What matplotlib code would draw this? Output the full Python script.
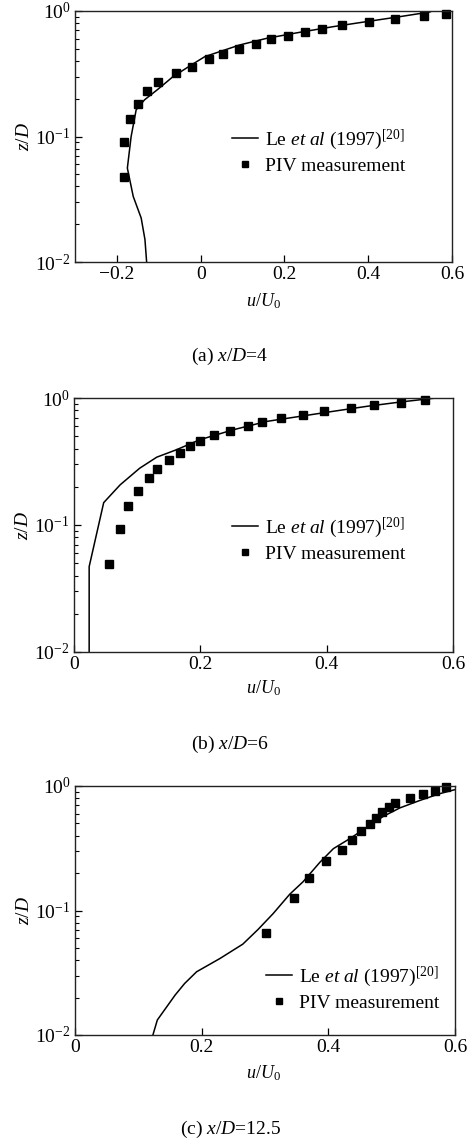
import math
import matplotlib
matplotlib.use("Agg")
import matplotlib.pyplot as plt
from matplotlib.ticker import FixedLocator, FuncFormatter, LogLocator, NullFormatter

plt.rcParams['font.family'] = ['Liberation Serif', 'DejaVu Serif']
plt.rcParams['mathtext.fontset'] = 'custom'
plt.rcParams['mathtext.rm'] = 'Liberation Serif'
plt.rcParams['mathtext.it'] = 'Liberation Serif:italic'
plt.rcParams['mathtext.bf'] = 'Liberation Serif:bold'

# ---- Panel (a) x/D = 4 ----
a_piv_u = [0.585, 0.532, 0.465, 0.401, 0.337, 0.289, 0.249, 0.209, 0.169, 0.131, 0.092,
           0.053, 0.019, -0.021, -0.060, -0.101, -0.128, -0.149, -0.169, -0.184, -0.184]
a_piv_z = [0.946, 0.912, 0.859, 0.812, 0.774, 0.719, 0.676, 0.632, 0.595, 0.546, 0.501,
           0.455, 0.412, 0.361, 0.319, 0.272, 0.230, 0.181, 0.138, 0.090, 0.048]
a_les_u = [-0.129, -0.133, -0.142, -0.161, -0.175, -0.166, -0.154, -0.134, -0.102, -0.066,
           -0.022, 0.010, 0.093, 0.157, 0.236, 0.316, 0.395, 0.475, 0.547, 0.552]
a_les_z = [0.0100, 0.0151, 0.0224, 0.0333, 0.056, 0.100, 0.163, 0.196, 0.238, 0.300,
           0.372, 0.433, 0.536, 0.605, 0.676, 0.750, 0.822, 0.901, 0.982, 1.0]

# ---- Panel (b) x/D = 6 ----
b_piv_u = [0.556, 0.517, 0.475, 0.438, 0.395, 0.363, 0.328, 0.298, 0.276, 0.247, 0.221,
           0.199, 0.183, 0.168, 0.151, 0.131, 0.118, 0.101, 0.086, 0.073, 0.056]
b_piv_z = [0.970, 0.919, 0.881, 0.829, 0.785, 0.734, 0.691, 0.643, 0.601, 0.552, 0.511,
           0.461, 0.420, 0.368, 0.326, 0.277, 0.233, 0.184, 0.141, 0.0925, 0.049]
b_les_u = [0.024, 0.024, 0.047, 0.073, 0.104, 0.131, 0.162, 0.199, 0.252, 0.305,
           0.410, 0.463, 0.516, 0.563, 0.600]
b_les_z = [0.0100, 0.047, 0.150, 0.207, 0.280, 0.342, 0.391, 0.469, 0.562, 0.654,
           0.785, 0.859, 0.929, 0.988, 1.03]

# ---- Panel (c) x/D = 12.5 ----
c_piv_u = [0.586, 0.568, 0.550, 0.529, 0.506, 0.495, 0.484, 0.475, 0.465, 0.451, 0.438,
           0.422, 0.396, 0.370, 0.346, 0.301]
c_piv_z = [0.976, 0.918, 0.857, 0.801, 0.735, 0.675, 0.615, 0.551, 0.493, 0.436, 0.367,
           0.308, 0.250, 0.184, 0.125, 0.0662]
c_les_u = [0.123, 0.130, 0.158, 0.173, 0.192, 0.229, 0.265, 0.289, 0.313, 0.339, 0.360,
           0.387, 0.408, 0.434, 0.460, 0.487, 0.513, 0.545, 0.576, 0.600]
c_les_z = [0.0100, 0.0132, 0.0209, 0.0259, 0.0322, 0.0412, 0.0537, 0.0704, 0.0946, 0.135,
           0.170, 0.245, 0.314, 0.378, 0.463, 0.571, 0.667, 0.767, 0.868, 0.935]

x_ticks_a = [-0.2, 0, 0.2, 0.4, 0.6]
x_ticks_bc = [0, 0.2, 0.4, 0.6]
captions = ["(a) $\\it{x/D}$=4", "(b) $\\it{x/D}$=6", "(c) $\\it{x/D}$=12.5"]
les_label = "Le $\\it{et\\ al}$ (1997)$^{[20]}$"
piv_label = "PIV measurement"

W, H = 471, 1143
fig = plt.figure(figsize=(W / 100, H / 100), dpi=100)


def box(l, t, r, b):
    return [l / W, 1 - b / H, (r - l) / W, (b - t) / H]


panels = [
    dict(px=(75, 11, 452, 262), xlim=(-0.3, 0.6), xt=x_ticks_a,
         pu=a_piv_u, pz=a_piv_z, lu=a_les_u, lz=a_les_z, cap=captions[0], capy=356, xly=301,
         leg=(224, 120)),
    dict(px=(74, 398, 453, 652), xlim=(0, 0.6), xt=x_ticks_bc,
         pu=b_piv_u, pz=b_piv_z, lu=b_les_u, lz=b_les_z, cap=captions[1], capy=744, xly=688,
         leg=(224, 508)),
    dict(px=(75, 786, 455, 1035), xlim=(0, 0.6), xt=x_ticks_bc,
         pu=c_piv_u, pz=c_piv_z, lu=c_les_u, lz=c_les_z, cap=captions[2], capy=1129, xly=1073,
         leg=(258, 957)),
]


def yfmt(v, pos):
    n = int(round(math.log10(v)))
    s = str(n).replace('-', '\u2212')
    return "10$^{" + s + "}$"


def xfmt(v, pos):
    if abs(v) < 1e-9:
        return "0"
    return ("%.1f" % v).replace('-', '\u2212')


for p in panels:
    l, t, r, b = p['px']
    ax = fig.add_axes(box(l, t, r, b))
    ax.set_yscale('log')
    ax.set_ylim(1e-2, 1)
    ax.set_xlim(*p['xlim'])
    ax.plot(p['lu'], p['lz'], color='black', lw=1.1, label=les_label)
    ax.plot(p['pu'], p['pz'], linestyle='none', marker='s', ms=5.5, color='black',
            label=piv_label, clip_on=False)
    ax.xaxis.set_major_locator(FixedLocator(p['xt']))
    ax.xaxis.set_major_formatter(FuncFormatter(xfmt))
    ax.yaxis.set_major_locator(FixedLocator([1e-2, 1e-1, 1e0]))
    ax.yaxis.set_major_formatter(FuncFormatter(yfmt))
    ax.yaxis.set_minor_locator(LogLocator(base=10, subs=range(2, 10)))
    ax.yaxis.set_minor_formatter(NullFormatter())
    ax.tick_params(axis='both', which='major', direction='in', length=5, width=0.9,
                   labelsize=14, top=False, right=False, pad=3)
    ax.tick_params(axis='y', which='minor', direction='in', length=3, width=0.8, right=False)
    for sp in ax.spines.values():
        sp.set_linewidth(1.0)
        sp.set_color('#222222')
    ax.set_ylabel("$\\it{z/D}$", fontsize=14, labelpad=2)
    fig.text(263 / W, 1 - p['xly'] / H, "$\\it{u/U}_{0}$", ha='center', va='center', fontsize=13)
    fig.text(230 / W, 1 - p['capy'] / H, p['cap'], ha='center', va='center', fontsize=14)
    lx, ly = p['leg']
    ax.legend(loc='upper left',
              bbox_to_anchor=((lx - l) / (r - l), (b - ly) / (b - t)),
              frameon=False, fontsize=14, handlelength=1.35, handletextpad=0.36,
              borderaxespad=0, labelspacing=0.25, markerscale=0.8)

fig.savefig("out.png", dpi=100)
